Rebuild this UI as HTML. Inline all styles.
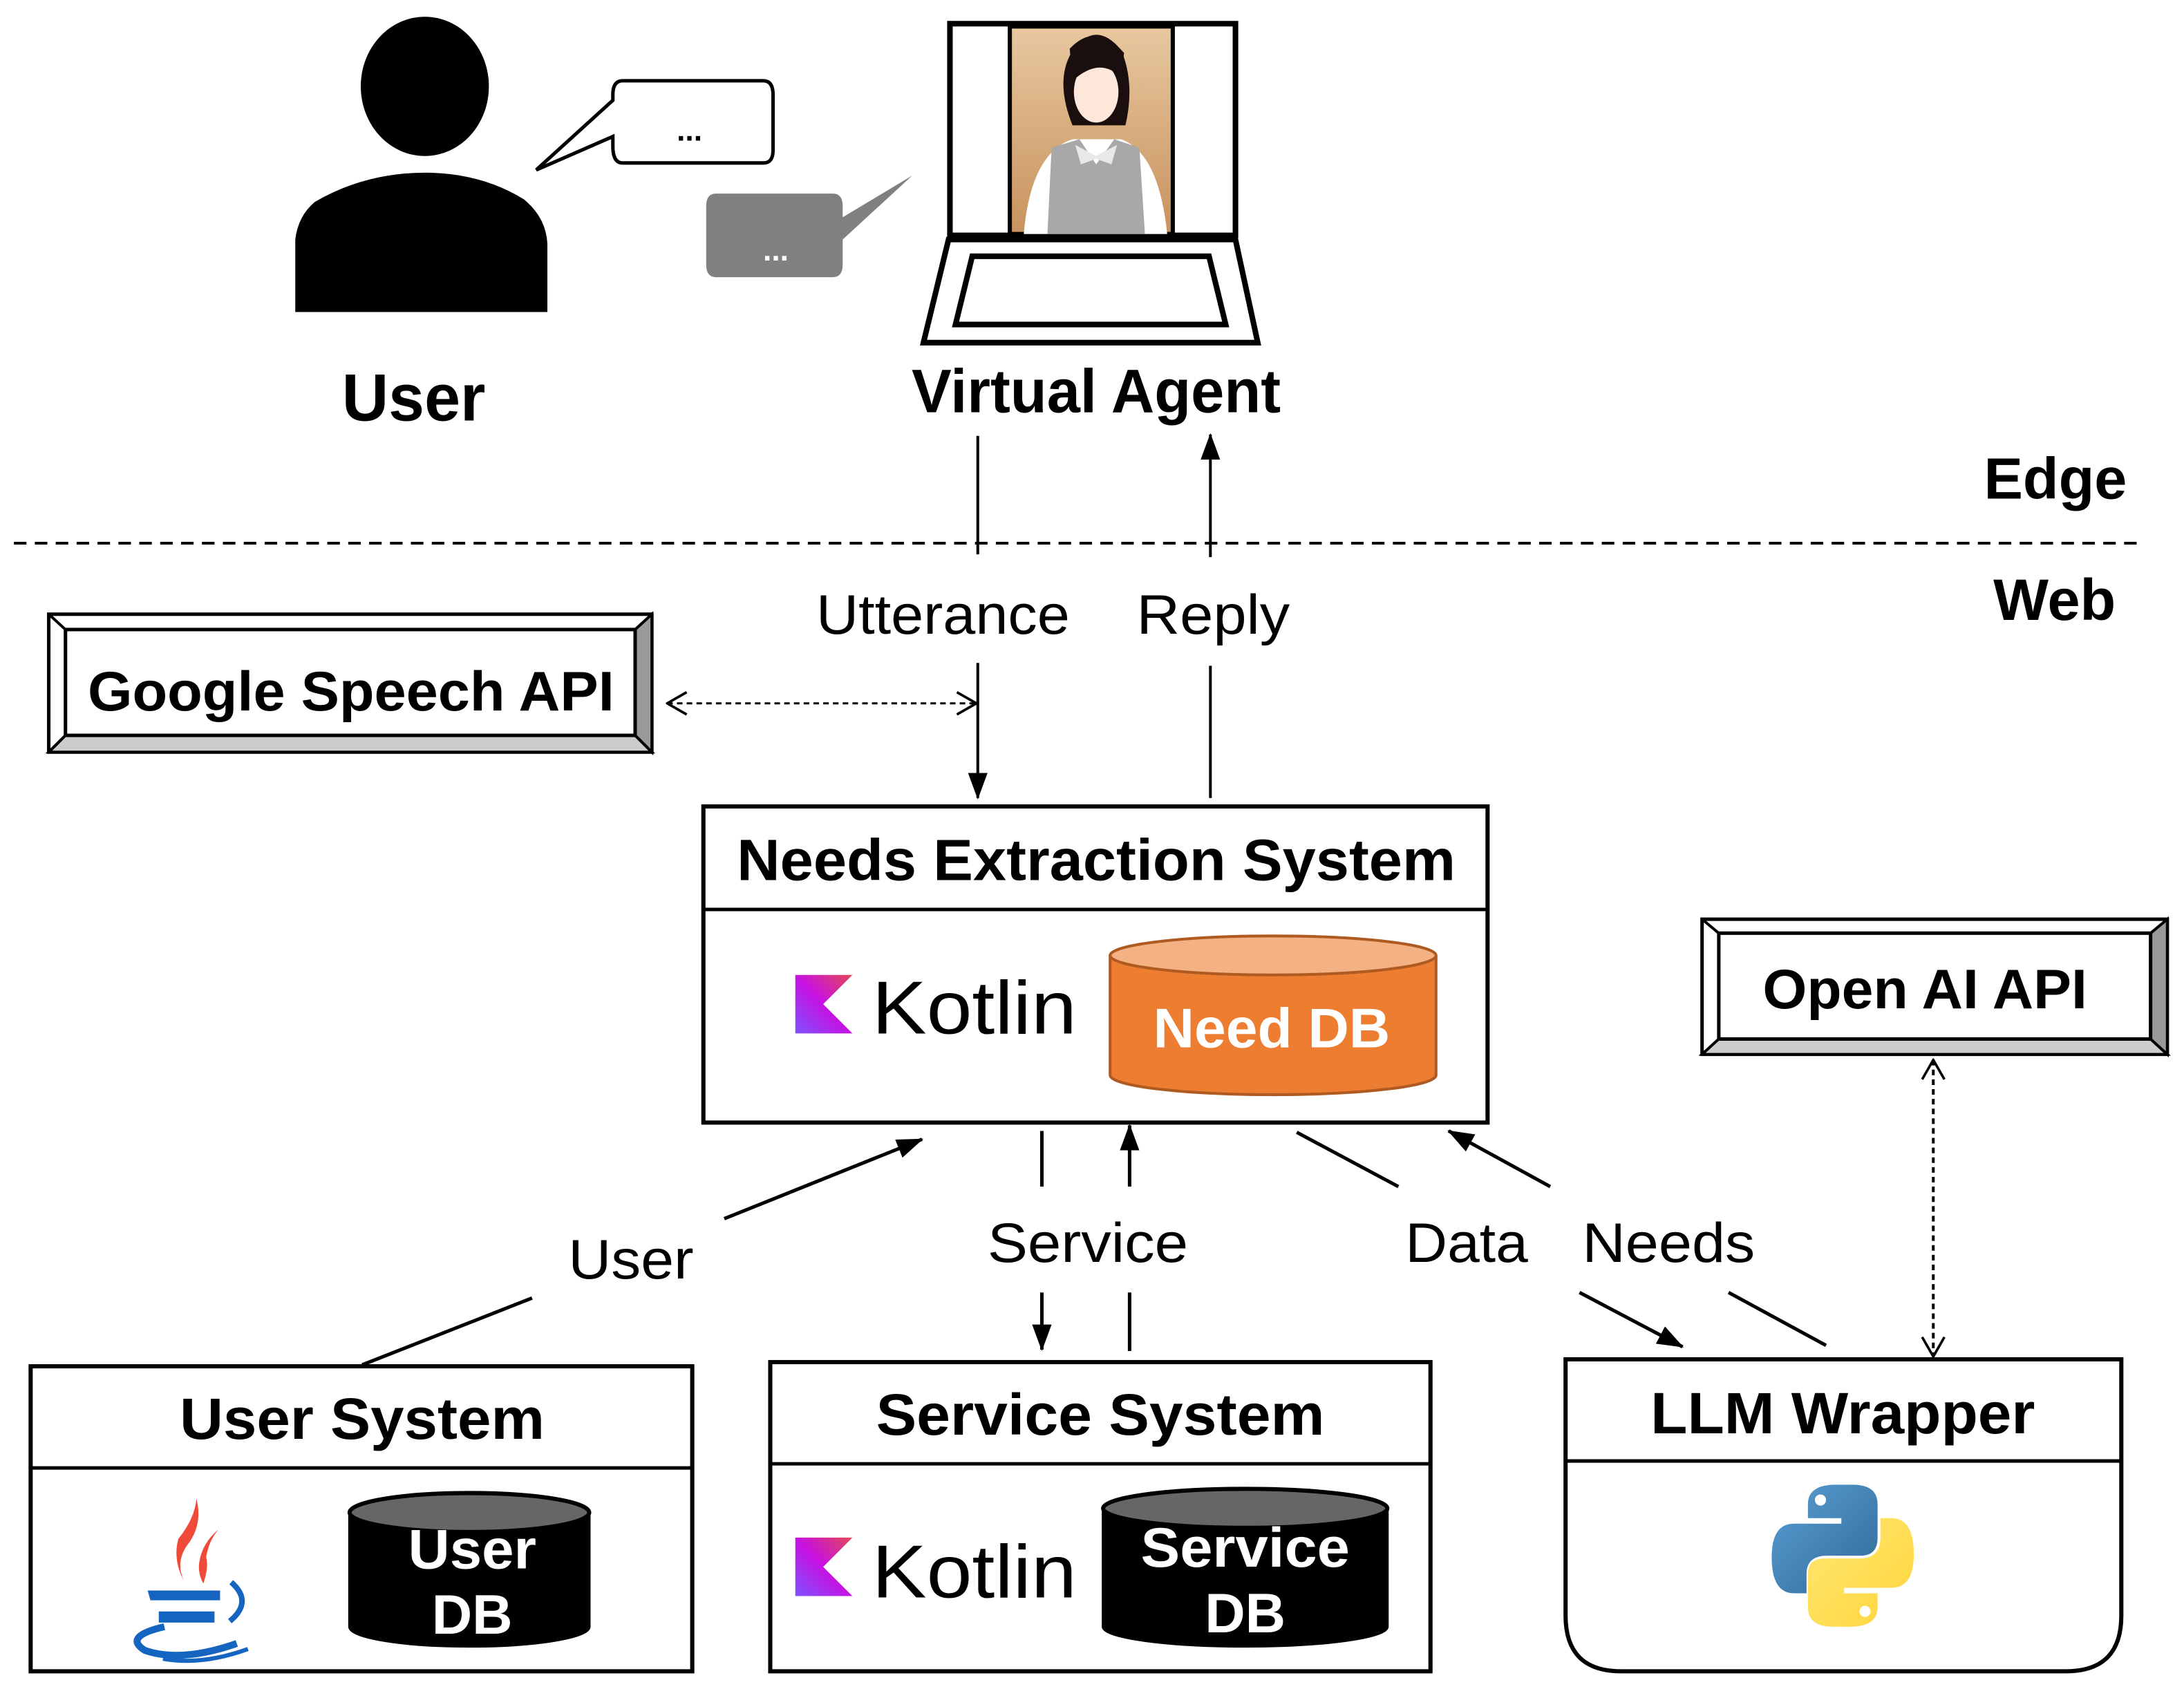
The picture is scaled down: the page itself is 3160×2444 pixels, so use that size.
<!DOCTYPE html>
<html><head><meta charset="utf-8"><style>html,body{margin:0;padding:0;background:#fff}svg{display:block}</style></head>
<body>
<svg width="3160" height="2444" viewBox="0 0 1568 1212.7" xmlns="http://www.w3.org/2000/svg" font-family="'Liberation Sans', sans-serif">
<defs>
<linearGradient id="kg" x1="0" y1="1" x2="1" y2="0"><stop offset="0" stop-color="#7f52ff"/><stop offset="0.5" stop-color="#c711e1"/><stop offset="1" stop-color="#e44857"/></linearGradient>
<linearGradient id="pb" x1="0" y1="0" x2="1" y2="1"><stop offset="0" stop-color="#5a9fd4"/><stop offset="1" stop-color="#306998"/></linearGradient>
<linearGradient id="py" x1="0" y1="0" x2="1" y2="1"><stop offset="0" stop-color="#ffe873"/><stop offset="1" stop-color="#ffd43b"/></linearGradient>
<linearGradient id="face" x1="0" y1="0" x2="0" y2="1"><stop offset="0" stop-color="#e8c8a0"/><stop offset="1" stop-color="#c8925e"/></linearGradient>
<marker id="ah" markerWidth="20" markerHeight="16" refX="18" refY="8" orient="auto" markerUnits="userSpaceOnUse"><path d="M0,1 L19,8 L0,15 z" fill="#000"/></marker>
<marker id="ao" markerWidth="16" markerHeight="18" refX="15" refY="9" orient="auto" markerUnits="userSpaceOnUse"><path d="M1,1 L15,9 L1,17" fill="none" stroke="#000" stroke-width="1.8"/></marker>
<marker id="aos" markerWidth="16" markerHeight="18" refX="1" refY="9" orient="auto" markerUnits="userSpaceOnUse"><path d="M15,1 L1,9 L15,17" fill="none" stroke="#000" stroke-width="1.8"/></marker>
</defs>

<!-- User figure -->
<ellipse cx="305" cy="62" rx="46" ry="50" fill="#000"/>
<path d="M212,224 L212,172 Q214,155 226,145 Q262,124 305,124 Q345,124 376,143 Q392,156 393,175 L393,224 Z" fill="#000"/>
<path d="M447,58 L548,58 Q555,58 555,68 L555,108 Q555,117 548,117 L447,117 Q440,117 440,105 L440,98 L385,122 L440,72 L440,68 Q440,58 447,58 Z" fill="#fff" stroke="#000" stroke-width="2.5"/>
<text x="495" y="101" font-size="22" font-weight="bold" text-anchor="middle">...</text>
<path d="M514,139 L598,139 Q605,139 605,148 L605,156 L655,126 L605,172 L605,190 Q605,199 598,199 L514,199 Q507,199 507,190 L507,148 Q507,139 514,139 Z" fill="#808080"/>
<text x="557" y="187" font-size="22" font-weight="bold" fill="#fff" text-anchor="middle">...</text>
<text x="297" y="302" font-size="48" font-weight="bold" text-anchor="middle" textLength="103" lengthAdjust="spacingAndGlyphs">User</text>

<!-- Laptop -->
<rect x="682" y="17" width="205" height="152" fill="#fff" stroke="#000" stroke-width="4"/>
<rect x="725" y="19" width="117" height="149" fill="url(#face)" stroke="#000" stroke-width="3"/>
<path d="M768,40 Q785,12 805,36 Q815,60 808,90 L770,90 Q758,60 768,40Z" fill="#1a0e0e"/>
<ellipse cx="787" cy="66" rx="16" ry="22" fill="#fde6da"/>
<path d="M768,35 Q787,15 807,38 L805,56 Q790,40 770,58Z" fill="#1a0e0e"/>
<path d="M735,168 Q740,110 770,100 L805,100 Q832,110 838,168 Z" fill="#fff"/>
<path d="M752,168 L755,106 L775,100 L787,118 L800,100 L818,106 L822,168Z" fill="#a8a8a8"/>
<path d="M772,104 L787,112 L802,104 L798,118 L787,114 L776,118Z" fill="#e8e8e8"/>
<path d="M681,172 L887,172 L903,246 L663,246 Z" fill="#fff" stroke="#000" stroke-width="4"/>
<path d="M698,184 L868,184 L880,233 L686,233 Z" fill="#fff" stroke="#000" stroke-width="4"/>
<text x="787" y="296" font-size="44" font-weight="bold" text-anchor="middle" textLength="265" lengthAdjust="spacingAndGlyphs">Virtual Agent</text>

<!-- Edge / Web -->
<line x1="10" y1="390" x2="1540" y2="390" stroke="#000" stroke-width="2" stroke-dasharray="9,6"/>
<text x="1527" y="358" font-size="42" font-weight="bold" text-anchor="end">Edge</text>
<text x="1519" y="445" font-size="42" font-weight="bold" text-anchor="end">Web</text>

<!-- Utterance / Reply -->
<line x1="702" y1="313" x2="702" y2="398" stroke="#000" stroke-width="2"/>
<line x1="702" y1="476" x2="702" y2="573" stroke="#000" stroke-width="2" marker-end="url(#ah)"/>
<text x="677" y="455" font-size="40" text-anchor="middle" textLength="182" lengthAdjust="spacingAndGlyphs">Utterance</text>
<line x1="869" y1="400" x2="869" y2="312" stroke="#000" stroke-width="2" marker-end="url(#ah)"/>
<line x1="869" y1="478" x2="869" y2="573" stroke="#000" stroke-width="2"/>
<text x="871" y="455" font-size="40" text-anchor="middle" textLength="110" lengthAdjust="spacingAndGlyphs">Reply</text>

<!-- Google Speech API -->
<rect x="35" y="441" width="433" height="99" fill="#fff" stroke="#000" stroke-width="2.5"/>
<path d="M35,540 L47,528 L456,528 L468,540Z" fill="#ccc" stroke="#000" stroke-width="2"/>
<path d="M468,441 L456,452 L456,528 L468,540Z" fill="#999" stroke="#000" stroke-width="2"/>
<path d="M35,441 L47,452 M35,540 L47,528" stroke="#000" stroke-width="2"/>
<rect x="47" y="452" width="409" height="76" fill="#fff" stroke="#000" stroke-width="2.5"/>
<text x="252" y="510" font-size="40" font-weight="bold" text-anchor="middle" textLength="378" lengthAdjust="spacingAndGlyphs">Google Speech API</text>
<line x1="479" y1="505" x2="701" y2="505" stroke="#000" stroke-width="1.5" stroke-dasharray="4,3" marker-start="url(#aos)" marker-end="url(#ao)"/>

<!-- Needs Extraction System -->
<rect x="505" y="579" width="563" height="227" fill="#fff" stroke="#000" stroke-width="3"/>
<line x1="505" y1="653" x2="1068" y2="653" stroke="#000" stroke-width="2.5"/>
<text x="787" y="632" font-size="42" font-weight="bold" text-anchor="middle" textLength="516" lengthAdjust="spacingAndGlyphs">Needs Extraction System</text>
<polygon points="571,700 612,700 591,721 612,742 571,742" fill="url(#kg)"/>
<text x="626" y="742" font-size="54" textLength="147" lengthAdjust="spacingAndGlyphs">Kotlin</text>
<path d="M797,686 L797,772 A117,14 0 0 0 1031,772 L1031,686" fill="#ed7d31" stroke="#ae5a21" stroke-width="2"/>
<ellipse cx="914" cy="686" rx="117" ry="14" fill="#f4b183" stroke="#ae5a21" stroke-width="2"/>
<text x="913" y="752" font-size="40" font-weight="bold" fill="#fff" text-anchor="middle" textLength="170" lengthAdjust="spacingAndGlyphs">Need DB</text>

<!-- Open AI API -->
<rect x="1222" y="660" width="334" height="97" fill="#fff" stroke="#000" stroke-width="2.5"/>
<path d="M1222,757 L1234,746 L1544,746 L1556,757Z" fill="#ccc" stroke="#000" stroke-width="2"/>
<path d="M1556,660 L1544,670 L1544,746 L1556,757Z" fill="#999" stroke="#000" stroke-width="2"/>
<path d="M1222,660 L1234,670" stroke="#000" stroke-width="2"/>
<rect x="1234" y="670" width="310" height="76" fill="#fff" stroke="#000" stroke-width="2.5"/>
<text x="1382" y="724" font-size="40" font-weight="bold" text-anchor="middle" textLength="233" lengthAdjust="spacingAndGlyphs">Open AI API</text>
<line x1="1388" y1="761" x2="1388" y2="974" stroke="#000" stroke-width="2" stroke-dasharray="4,3" marker-start="url(#aos)" marker-end="url(#ao)"/>

<!-- Connectors -->
<line x1="520" y1="875" x2="662" y2="818" stroke="#000" stroke-width="2.5" marker-end="url(#ah)"/>
<line x1="382" y1="932" x2="260" y2="980" stroke="#000" stroke-width="2.5"/>
<text x="453" y="918" font-size="40" text-anchor="middle" textLength="90" lengthAdjust="spacingAndGlyphs">User</text>
<line x1="748" y1="812" x2="748" y2="852" stroke="#000" stroke-width="2.5"/>
<line x1="748" y1="928" x2="748" y2="969" stroke="#000" stroke-width="2.5" marker-end="url(#ah)"/>
<line x1="811" y1="852" x2="811" y2="808" stroke="#000" stroke-width="2.5" marker-end="url(#ah)"/>
<line x1="811" y1="928" x2="811" y2="970" stroke="#000" stroke-width="2.5"/>
<text x="781" y="906" font-size="40" text-anchor="middle" textLength="144" lengthAdjust="spacingAndGlyphs">Service</text>
<line x1="931" y1="813" x2="1004" y2="852" stroke="#000" stroke-width="2.5"/>
<line x1="1134" y1="928" x2="1208" y2="967" stroke="#000" stroke-width="2.5" marker-end="url(#ah)"/>
<text x="1053" y="906" font-size="40" text-anchor="middle" textLength="88" lengthAdjust="spacingAndGlyphs">Data</text>
<line x1="1113" y1="852" x2="1040" y2="812" stroke="#000" stroke-width="2.5" marker-end="url(#ah)"/>
<line x1="1241" y1="928" x2="1311" y2="966" stroke="#000" stroke-width="2.5"/>
<text x="1198" y="906" font-size="40" text-anchor="middle" textLength="124" lengthAdjust="spacingAndGlyphs">Needs</text>

<!-- User System -->
<rect x="22" y="981" width="475" height="219" fill="#fff" stroke="#000" stroke-width="3"/>
<line x1="22" y1="1054" x2="497" y2="1054" stroke="#000" stroke-width="2.5"/>
<text x="260" y="1033" font-size="42" font-weight="bold" text-anchor="middle" textLength="262" lengthAdjust="spacingAndGlyphs">User System</text>
<g>
<path d="M141,1076 Q146,1095 134,1110 Q126,1122 132,1135 Q124,1120 128,1105 Q140,1090 141,1076Z" fill="#f04a3a"/>
<path d="M157,1098 Q145,1108 143,1122 Q142,1130 146,1137 Q150,1125 148,1118 Q150,1106 157,1098Z" fill="#f04a3a"/>
<path d="M106,1142 L158,1142 L158,1149 L108,1149Z M114,1157 L154,1157 L154,1165 L114,1165Z" fill="#1565c0"/>
<path d="M166,1136 Q182,1150 165,1164" fill="none" stroke="#1565c0" stroke-width="4"/>
<path d="M118,1168 Q88,1175 104,1185 Q130,1194 170,1180" fill="none" stroke="#1565c0" stroke-width="5"/>
<path d="M117,1191 Q145,1196 178,1184" fill="none" stroke="#1565c0" stroke-width="3"/>
</g>
<path d="M251,1086 L251,1168 A86,14 0 0 0 423,1168 L423,1086" fill="#000" stroke="#000" stroke-width="2"/>
<ellipse cx="337" cy="1086" rx="86" ry="14" fill="#666" stroke="#000" stroke-width="3"/>
<text x="339" y="1126" font-size="40" font-weight="bold" fill="#fff" text-anchor="middle" textLength="92" lengthAdjust="spacingAndGlyphs">User</text>
<text x="339" y="1173" font-size="40" font-weight="bold" fill="#fff" text-anchor="middle" textLength="58" lengthAdjust="spacingAndGlyphs">DB</text>

<!-- Service System -->
<rect x="553" y="978" width="474" height="222" fill="#fff" stroke="#000" stroke-width="3"/>
<line x1="553" y1="1051" x2="1027" y2="1051" stroke="#000" stroke-width="2.5"/>
<text x="790" y="1030" font-size="42" font-weight="bold" text-anchor="middle" textLength="322" lengthAdjust="spacingAndGlyphs">Service System</text>
<polygon points="571,1104 612,1104 591,1125 612,1146 571,1146" fill="url(#kg)"/>
<text x="626" y="1147" font-size="54" textLength="147" lengthAdjust="spacingAndGlyphs">Kotlin</text>
<path d="M792,1083 L792,1168 A102,14 0 0 0 996,1168 L996,1083" fill="#000" stroke="#000" stroke-width="2"/>
<ellipse cx="894" cy="1083" rx="102" ry="14" fill="#666" stroke="#000" stroke-width="3"/>
<text x="894" y="1125" font-size="40" font-weight="bold" fill="#fff" text-anchor="middle" textLength="150" lengthAdjust="spacingAndGlyphs">Service</text>
<text x="894" y="1172" font-size="40" font-weight="bold" fill="#fff" text-anchor="middle" textLength="58" lengthAdjust="spacingAndGlyphs">DB</text>

<!-- LLM Wrapper -->
<path d="M1124,976 L1523,976 L1523,1160 Q1523,1200 1483,1200 L1164,1200 Q1124,1200 1124,1160 Z" fill="#fff" stroke="#000" stroke-width="3"/>
<line x1="1124" y1="1049" x2="1523" y2="1049" stroke="#000" stroke-width="2.5"/>
<text x="1323" y="1029" font-size="42" font-weight="bold" text-anchor="middle" textLength="276" lengthAdjust="spacingAndGlyphs">LLM Wrapper</text>
<g>
<path d="M1318,1066 Q1298,1066 1298,1080 L1298,1090 L1322,1090 L1322,1094 L1288,1094 Q1272,1094 1272,1118 Q1272,1144 1288,1144 L1297,1144 L1297,1130 Q1297,1117 1312,1117 L1336,1117 Q1348,1117 1348,1104 L1348,1080 Q1348,1066 1330,1066 Z" fill="url(#pb)"/>
<circle cx="1307" cy="1077" r="4" fill="#fff"/>
<path d="M1328,1168 Q1348,1168 1348,1154 L1348,1144 L1324,1144 L1324,1140 L1358,1140 Q1374,1140 1374,1116 Q1374,1090 1358,1090 L1350,1090 L1350,1104 Q1350,1119 1335,1119 L1310,1119 Q1298,1119 1298,1130 L1298,1154 Q1298,1168 1316,1168 Z" fill="url(#py)"/>
<circle cx="1339" cy="1157" r="4" fill="#fff"/>
</g>
</svg>
</body></html>
